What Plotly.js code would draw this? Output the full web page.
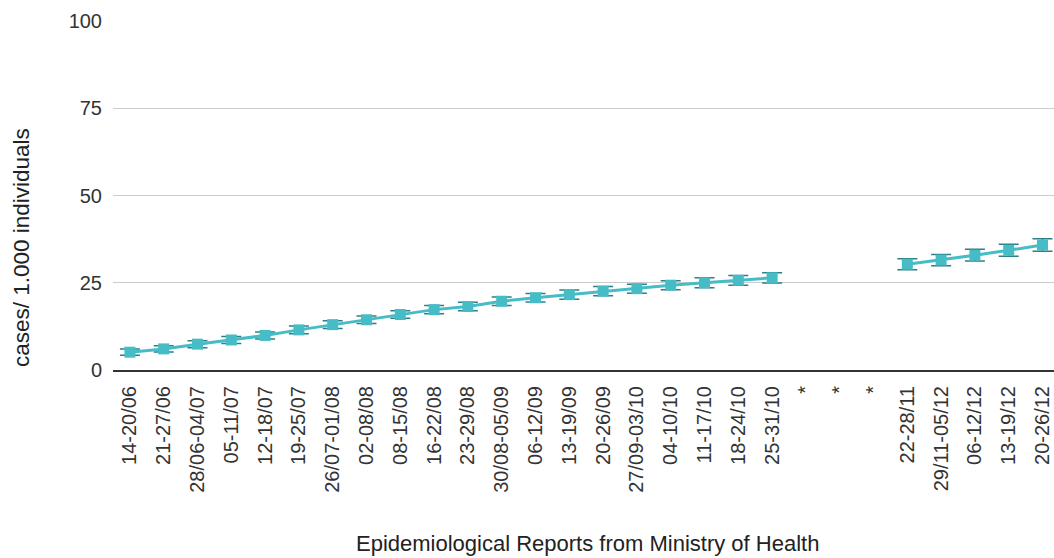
<!DOCTYPE html>
<html>
<head>
<meta charset="utf-8">
<script src="https://cdn.plot.ly/plotly-3.0.1.min.js"></script>
<style>html,body{margin:0;padding:0;background:#fff;}#chart{width:1054px;height:558px;}</style>
</head>
<body>
<div id="chart"></div>
<script>
var weekLabels = ["14-20/06","21-27/06","28/06-04/07","05-11/07","12-18/07","19-25/07","26/07-01/08","02-08/08","08-15/08","16-22/08","23-29/08","30/08-05/09","06-12/09","13-19/09","20-26/09","27/09-03/10","04-10/10","11-17/10","18-24/10","25-31/10","*","*","*","22-28/11","29/11-05/12","06-12/12","13-19/12","20-26/12"];
var casesPer1000 = [5.1,6.05,7.4,8.6,9.9,11.5,13.0,14.4,15.9,17.3,18.2,19.7,20.7,21.6,22.6,23.3,24.3,25.0,25.7,26.4,null,null,null,30.3,31.5,32.9,34.3,35.8];
var errorMargin = [0.9,0.9,1.0,1.0,1.0,1.1,1.1,1.1,1.1,1.2,1.2,1.2,1.2,1.3,1.3,1.3,1.3,1.4,1.4,1.5,null,null,null,1.6,1.6,1.7,1.7,1.8];
var yTicks = [0,25,50,75,100];

var xIdx = weekLabels.map(function(_, i){ return i; });

var trace = {
  x: xIdx,
  y: casesPer1000,
  type: 'scatter',
  mode: 'lines+markers',
  connectgaps: false,
  line: {color: '#46bdc6', width: 3},
  marker: {symbol: 'square', size: 11, color: '#46bdc6'},
  error_y: {type: 'data', array: errorMargin, visible: true, color: '#2f7f86', thickness: 1.5, width: 10},
  hoverinfo: 'skip'
};

var layout = {
  width: 1054, height: 558,
  margin: {l: 113, r: 0, t: 21, b: 188},
  paper_bgcolor: '#fff', plot_bgcolor: '#fff',
  showlegend: false,
  font: {family: '"Liberation Sans", Arial, sans-serif', color: '#333'},
  xaxis: {
    range: [-0.5, 27.34],
    tickmode: 'array', tickvals: xIdx, ticktext: weekLabels,
    tickangle: -90, tickfont: {size: 20, color: '#333'},
    showgrid: false, zeroline: false,
    showline: true, linecolor: '#333', linewidth: 2,
    ticks: '', ticklabelstandoff: 6, automargin: false
  },
  yaxis: {
    range: [0, 100],
    tickmode: 'array', tickvals: yTicks,
    tickfont: {size: 20, color: '#333'},
    showgrid: true, gridcolor: '#cccccc', gridwidth: 1,
    zeroline: false, showline: false, ticks: '', ticklabelstandoff: 10, automargin: false
  },
  annotations: [
    {text: 'cases/ 1.000 individuals', xref: 'paper', yref: 'paper', x: -0.0978, y: 0.352,
     xanchor: 'center', yanchor: 'middle', textangle: -90, showarrow: false,
     font: {size: 22.5, color: '#222'}},
    {text: 'Epidemiological Reports from Ministry of Health', xref: 'paper', yref: 'paper', x: 0.504, y: -0.496,
     xanchor: 'center', yanchor: 'middle', showarrow: false,
     font: {size: 22, color: '#222'}}
  ]
};

Plotly.newPlot('chart', [trace], layout, {displayModeBar: false, staticPlot: true});
</script>
</body>
</html>
